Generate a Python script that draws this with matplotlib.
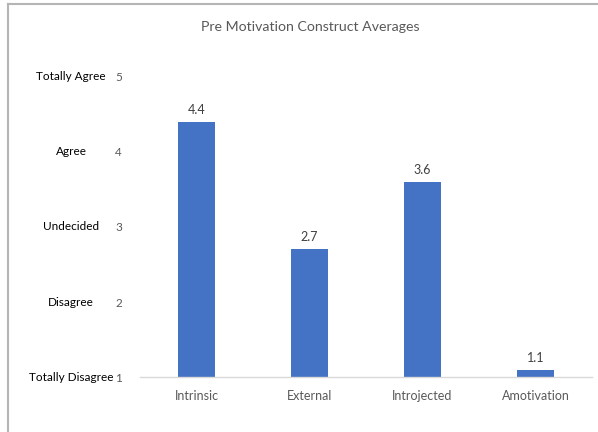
import matplotlib
matplotlib.use('Agg')
from matplotlib import pyplot as plt
from matplotlib.lines import Line2D
from matplotlib.transforms import blended_transform_factory

categories = ['Intrinsic', 'External', 'Introjected', 'Amotivation']
values = [4.4, 2.7, 3.6, 1.1]
scale_ticks = [1, 2, 3, 4, 5]
scale_labels = ['Totally Disagree', 'Disagree', 'Undecided', 'Agree', 'Totally Agree']

plt.rcParams['font.family'] = ['Lato', 'DejaVu Sans']

fig = plt.figure(figsize=(5.98, 4.32), dpi=100)
ax = fig.add_axes([0.234, 0.1273, 0.756, 0.6945])

x = range(len(categories))
ax.bar(x, [v - 1 for v in values], bottom=1, width=0.32, color='#4472C4')
for xi, v in zip(x, values):
    ax.text(xi, v + 0.08, '{:.1f}'.format(v), ha='center', va='bottom',
            fontsize=9, color='#404040')

ax.set_xlim(-0.5, len(categories) - 0.5)
ax.set_ylim(1, 5)
ax.set_xticks(list(x))
ax.set_xticklabels(categories, fontsize=9, color='#595959')
ax.set_yticks(scale_ticks)
ax.set_yticklabels([str(t) for t in scale_ticks], fontsize=8.5, color='#595959')
ax.tick_params(axis='both', length=0)
ax.tick_params(axis='x', pad=9)
ax.tick_params(axis='y', pad=13)
for side in ['top', 'right', 'left']:
    ax.spines[side].set_visible(False)
ax.spines['bottom'].set_color('#d9d9d9')
ax.spines['bottom'].set_linewidth(1.0)

# text labels for the scale, left of the numbers
trans = blended_transform_factory(fig.transFigure, ax.transData)
for t, lab in zip(scale_ticks, scale_labels):
    ax.text(71 / 598, t, lab, transform=trans, ha='center', va='center',
            fontsize=8.5, color='black', clip_on=False)

fig.text(310 / 598, 1 - 27 / 432, 'Pre Motivation Construct Averages',
         ha='center', va='center', fontsize=10.2, color='#595959')

# frame of the chart area
fig.add_artist(Line2D([8 / 598, 8 / 598], [0, 1 - 4 / 432],
                      transform=fig.transFigure, color='#b5b5b5', lw=1.5))
fig.add_artist(Line2D([8 / 598, 1], [1 - 4 / 432, 1 - 4 / 432],
                      transform=fig.transFigure, color='#b5b5b5', lw=1.5))

fig.savefig('out.png', dpi=100)
